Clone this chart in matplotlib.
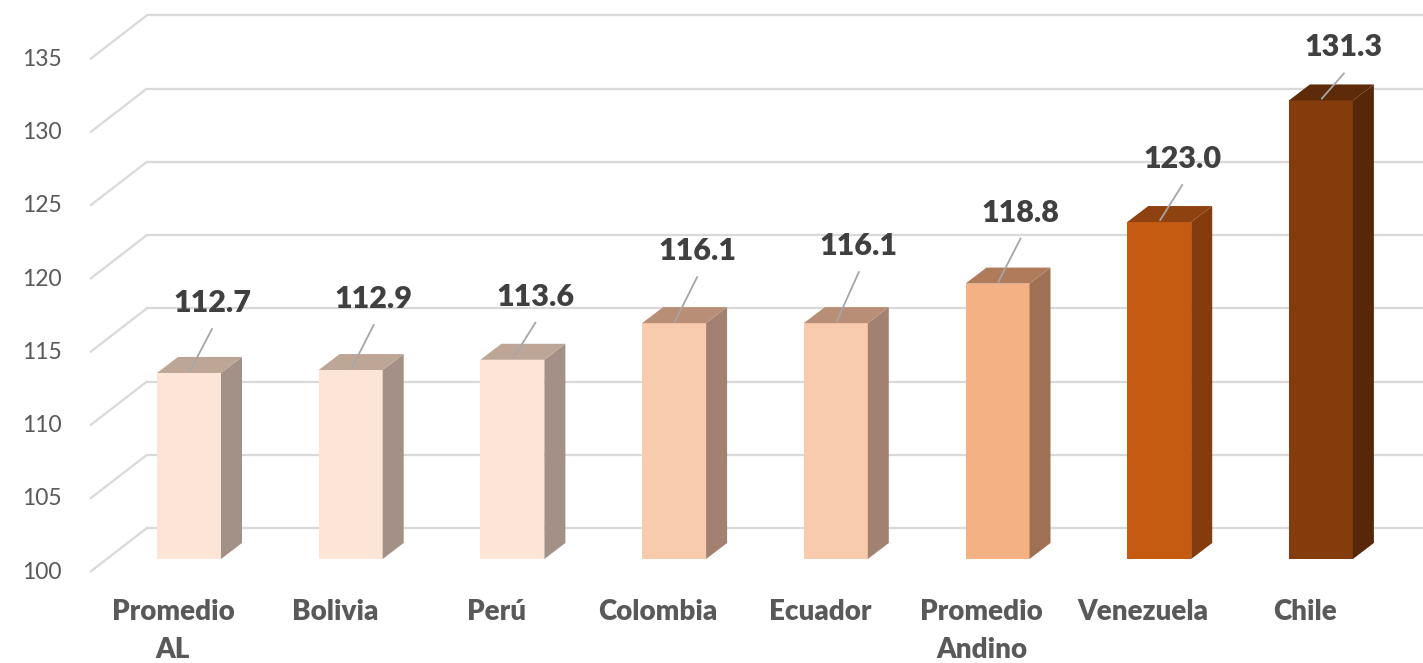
import matplotlib
matplotlib.use("Agg")
import matplotlib.pyplot as plt
from matplotlib.patches import Polygon, Rectangle

# datos
categorias = ["Promedio\nAL", "Bolivia", "Perú", "Colombia", "Ecuador",
              "Promedio\nAndino", "Venezuela", "Chile"]
valores = [112.7, 112.9, 113.6, 116.1, 116.1, 118.8, 123.0, 131.3]
ticks_y = [100, 105, 110, 115, 120, 125, 130, 135]

# colores: frente, lado, tapa
col_frente = ["#FCE4D6", "#FCE4D6", "#FCE4D6", "#F8CBAD", "#F8CBAD",
              "#F4B183", "#C55A11", "#843C0C"]
col_lado = ["#A39187", "#A39187", "#A39187", "#A28170", "#A28170",
            "#A07052", "#843C0C", "#562709"]
col_tapa = ["#BEA697", "#BEA697", "#BEA697", "#B88E76", "#B88E76",
            "#B07B5A", "#8E420F", "#5E2B0A"]

# distancia de la etiqueta sobre la barra (px)
sep_etiqueta = [70, 71, 63, 72, 77, 71, 63, 53]

plt.rcParams['font.family'] = ['Lato', 'DejaVu Sans']

W, H = 1423, 663
fig = plt.figure(figsize=(W / 100, H / 100), dpi=100)
ax = fig.add_axes([0, 0, 1, 1])

# escala: px por categoria y px por unidad
PX = 161.7
PY = 14.65
X0 = 189     # centro del frente de la primera barra (px)
Y0 = 559     # base (valor 100) en el plano frontal (px)
ax.set_xlim(-X0 / PX, (W - X0) / PX)
ax.set_ylim(100 - (H - Y0) / PY, 100 + Y0 / PY)
ax.axis("off")

def dx(p):
    return p / PX

def dy(p):
    return p / PY

gris_grid = "#D9D9D9"
x_frente = dx(90 - X0)
x_fondo = dx(147 - X0)
x_der = dx(W - X0)

# rejilla en perspectiva
for t in ticks_y:
    yf = t - dy(13)
    yb = t + dy(31)
    ax.plot([x_frente, x_fondo], [yf, yb], color=gris_grid, lw=1.6, zorder=1,
            solid_capstyle="butt")
    ax.plot([x_fondo, x_der], [yb, yb], color=gris_grid, lw=1.6, zorder=1)
    ax.text(dx(62 - X0), yf, str(t), ha="right", va="center", fontsize=16.5,
            color="#595959")

# barras 3D
ancho = dx(64)
prof_x = dx(21)
prof_y = dy(16)
for i, v in enumerate(valores):
    izq = i - ancho / 2
    der = i + ancho / 2
    ax.add_patch(Rectangle((izq, 100), ancho, v - 100, facecolor=col_frente[i],
                           edgecolor="none", zorder=3))
    ax.add_patch(Polygon([(der, 100), (der + prof_x, 100 + prof_y),
                          (der + prof_x, v + prof_y), (der, v)],
                         closed=True, facecolor=col_lado[i], edgecolor="none", zorder=3))
    ax.add_patch(Polygon([(izq, v), (der, v), (der + prof_x, v + prof_y),
                          (izq + prof_x, v + prof_y)],
                         closed=True, facecolor=col_tapa[i], edgecolor="none", zorder=3))

    # etiqueta y linea guia
    xl = i + dx(23)
    yl = v + dy(sep_etiqueta[i])
    ax.plot([i + dx(1), xl], [v + dy(2), v + dy(sep_etiqueta[i] - 26)],
            color="#A6A6A6", lw=1.3, zorder=4)
    ax.text(xl, yl, f"{v:.1f}", ha="center", va="center", fontsize=22,
            fontweight="heavy", color="#404040", zorder=5)

    # categoria
    ax.text(i - dx(16), 100 - dy(40), categorias[i], ha="center", va="top",
            fontsize=20, fontweight="heavy", color="#595959", linespacing=1.55)

fig.savefig("out.png", dpi=100, facecolor="white")
